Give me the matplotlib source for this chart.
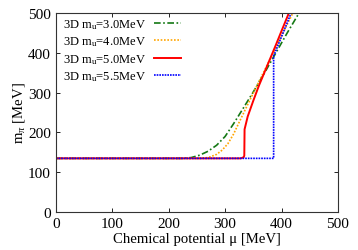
import numpy as np
import matplotlib
matplotlib.use('Agg')
import matplotlib.pyplot as plt

plt.rcParams['font.family'] = ['Liberation Serif', 'DejaVu Serif']
plt.rcParams['mathtext.fontset'] = 'custom'
plt.rcParams['mathtext.rm'] = 'Liberation Serif'
plt.rcParams['mathtext.it'] = 'Liberation Serif:italic'

# m_u = 3.0 MeV
mu_30 = [0, 225, 240, 255, 270, 285, 300, 315, 330, 350, 370, 390, 410, 431]
m_30 = [135, 135, 137, 143, 153, 168, 190, 222, 256, 302, 350, 400, 450, 500]
# m_u = 4.0 MeV
mu_40 = [0, 255, 270, 285, 295, 305, 315, 325, 340, 360, 380, 400, 420]
m_40 = [135, 135, 137, 145, 156, 172, 196, 226, 270, 328, 385, 442, 500]
# m_u = 5.0 MeV
mu_50 = [0, 328, 333, 334, 334.5, 340, 350, 360, 370, 380, 390, 400, 413]
m_50 = [135, 135, 138, 142, 208, 240, 280, 318, 352, 386, 420, 455, 500]
# m_u = 5.5 MeV
mu_55 = [0, 386, 386, 417]
m_55 = [135, 135, 392, 500]

labels = ['3D m$_\\mathrm{u}$=3.0MeV', '3D m$_\\mathrm{u}$=4.0MeV',
          '3D m$_\\mathrm{u}$=5.0MeV', '3D m$_\\mathrm{u}$=5.5MeV']

fig = plt.figure(figsize=(3.58, 2.51), dpi=100)
ax = fig.add_axes([0.156, 0.151, 0.788, 0.793])

ax.plot(mu_30, m_30, color='#147814', ls=(0, (4, 1.5, 1, 1.5)), lw=1.2, label=labels[0])
ax.plot(mu_40, m_40, color='#ffa500', ls=(0, (1, 1)), lw=1.2, label=labels[1])
ax.plot(mu_50, m_50, color='#ff0000', ls='-', lw=1.4, label=labels[2])
ax.plot(mu_55, m_55, color='#0000ff', ls=(0, (1, 0.6)), lw=1.2, label=labels[3])

ax.set_xlim(0, 500)
ax.set_ylim(0, 500)
ax.set_xticks(np.arange(0, 501, 100))
ax.set_yticks(np.arange(0, 501, 100))
ax.tick_params(direction='in', top=True, right=True, length=3, labelsize=11, width=0.6)
for s in ax.spines.values():
    s.set_linewidth(0.8)
    s.set_color('#333333')

ax.set_xlabel('Chemical potential μ [MeV]', fontsize=10.6, labelpad=1.5)
ax.set_ylabel('m$_\\pi$ [MeV]', fontsize=10.6, labelpad=1)

ax.legend(loc='upper left', frameon=False, markerfirst=False, fontsize=9,
          handlelength=2.2, handletextpad=0.6, labelspacing=0.3,
          borderaxespad=0.2, bbox_to_anchor=(0.0, 1.018))

fig.savefig('out.png', dpi=100)
